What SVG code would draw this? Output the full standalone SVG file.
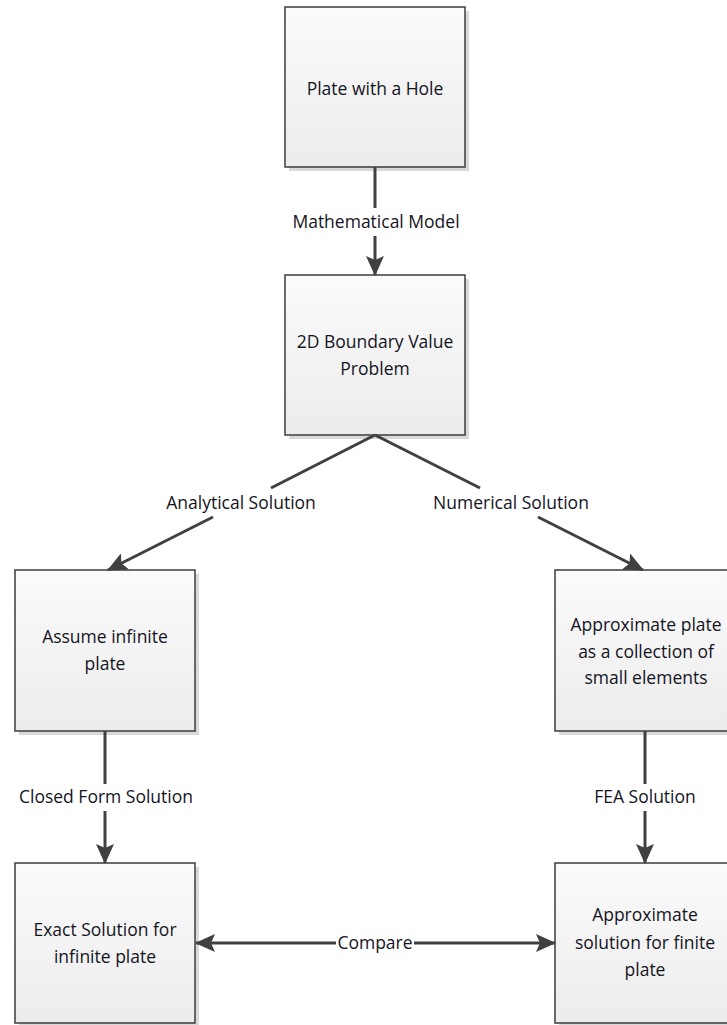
<svg xmlns="http://www.w3.org/2000/svg" width="727" height="1025" viewBox="0 0 727 1025">
  <style>
    .box { fill: url(#boxFill); stroke: #3c3c3c; stroke-width: 1.5; }
    .shadow { fill: #d9d9d9; }
    .txt { font-family: "Open Sans", "Liberation Sans", sans-serif; font-size: 17.5px; fill: #14141e; text-anchor: middle; }
    .conn { stroke: #404040; stroke-width: 3; fill: none; }
    .end { marker-end: url(#arrow); }
  </style>
  <defs>
    <linearGradient id="boxFill" x1="0" y1="0" x2="0" y2="1">
      <stop offset="0" stop-color="#fbfbfb"/>
      <stop offset="1" stop-color="#ececec"/>
    </linearGradient>
    <marker id="arrow" viewBox="0 0 20 18" refX="19" refY="9" markerWidth="20" markerHeight="18" markerUnits="userSpaceOnUse" orient="auto-start-reverse">
      <path d="M0,0 L20,9 L0,18 L4,9 Z" fill="#404040"/>
    </marker>
  </defs>

  <g id="plate">
    <rect class="shadow" x="289" y="11" width="180" height="160"/>
    <rect class="box" x="285" y="7" width="180" height="160"/>
    <text class="txt" x="375" y="95">Plate with a Hole</text>
  </g>

  <g id="bvp">
    <rect class="shadow" x="289" y="279" width="180" height="160"/>
    <rect class="box" x="285" y="275" width="180" height="160"/>
    <text class="txt" x="375" y="348">2D Boundary Value</text>
    <text class="txt" x="375" y="375">Problem</text>
  </g>

  <g id="infinite">
    <rect class="shadow" x="19" y="574" width="180" height="161"/>
    <rect class="box" x="15" y="570" width="180" height="161"/>
    <text class="txt" x="105" y="643">Assume infinite</text>
    <text class="txt" x="105" y="670">plate</text>
  </g>

  <g id="elements">
    <rect class="shadow" x="559" y="574" width="180" height="161"/>
    <rect class="box" x="555" y="570" width="180" height="161"/>
    <text class="txt" x="646" y="631">Approximate plate</text>
    <text class="txt" x="646" y="658">as a collection of</text>
    <text class="txt" x="646" y="684">small elements</text>
  </g>

  <g id="exact">
    <rect class="shadow" x="19" y="867" width="180" height="160"/>
    <rect class="box" x="15" y="863" width="180" height="160"/>
    <text class="txt" x="105" y="936">Exact Solution for</text>
    <text class="txt" x="105" y="963">infinite plate</text>
  </g>

  <g id="approx">
    <rect class="shadow" x="559" y="867" width="180" height="160"/>
    <rect class="box" x="555" y="863" width="180" height="160"/>
    <text class="txt" x="645" y="921">Approximate</text>
    <text class="txt" x="645" y="949">solution for finite</text>
    <text class="txt" x="645" y="976">plate</text>
  </g>

  <!-- connectors, drawn over the boxes so they meet the outlines -->
  <g id="connectors">
    <!-- plate -> boundary value problem -->
    <line class="conn" x1="375" y1="167" x2="375" y2="208"/>
    <line class="conn end" x1="375" y1="236" x2="375" y2="275"/>
    <!-- analytical branch -->
    <line class="conn" x1="375" y1="435" x2="271" y2="488"/>
    <line class="conn end" x1="213" y1="517" x2="108" y2="570"/>
    <!-- numerical branch -->
    <line class="conn" x1="375" y1="435" x2="480" y2="488"/>
    <line class="conn end" x1="538" y1="517" x2="643" y2="570"/>
    <!-- closed form -->
    <line class="conn" x1="105" y1="731" x2="105" y2="784"/>
    <line class="conn end" x1="105" y1="811" x2="105" y2="863"/>
    <!-- FEA -->
    <line class="conn" x1="645" y1="731" x2="645" y2="784"/>
    <line class="conn end" x1="645" y1="811" x2="645" y2="863"/>
    <!-- compare -->
    <line class="conn" x1="336" y1="943" x2="196" y2="943" style="marker-end:url(#arrow)"/>
    <line class="conn end" x1="414" y1="943" x2="555" y2="943"/>

    <text class="txt" x="376" y="228">Mathematical Model</text>
    <text class="txt" x="241" y="509">Analytical Solution</text>
    <text class="txt" x="511" y="509">Numerical Solution</text>
    <text class="txt" x="106" y="803">Closed Form Solution</text>
    <text class="txt" x="645" y="803">FEA Solution</text>
    <text class="txt" x="375" y="949">Compare</text>
  </g>
</svg>
